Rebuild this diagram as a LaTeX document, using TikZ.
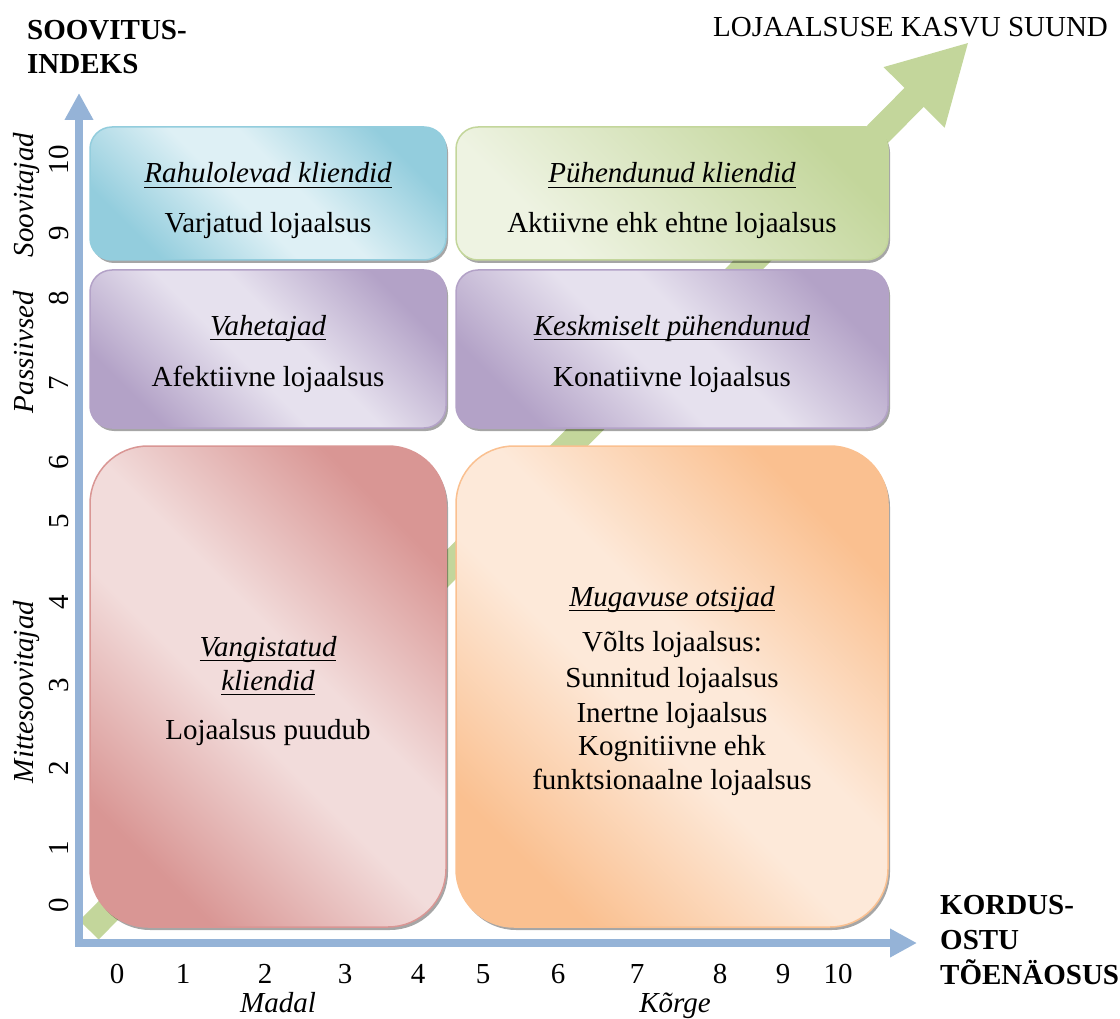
\documentclass[tikz,border=0pt]{standalone}
\usepackage{fontspec}
\setmainfont{Liberation Serif}
\usetikzlibrary{arrows.meta,shadows}

% underline at a fixed depth below the baseline
\newcommand{\segul}[1]{\setbox0=\hbox{#1}\rlap{\rule[-5.3pt]{\wd0}{1.6pt}}\box0}

% palette
\definecolor{axisblue}{HTML}{95B3D7}
\definecolor{trendgreen}{HTML}{C3D69B}
\definecolor{aquaD}{HTML}{93CDDD}\definecolor{aquaL}{HTML}{DEF0F5}
\definecolor{grnD}{HTML}{C3D69B}\definecolor{grnL}{HTML}{EEF3E2}
\definecolor{purD}{HTML}{B3A2C7}\definecolor{purL}{HTML}{E6E1EE}
\definecolor{redD}{HTML}{D99694}\definecolor{redL}{HTML}{F2DCDB}
\definecolor{orgD}{HTML}{FAC090}\definecolor{orgL}{HTML}{FDE9D9}

% diagonal fills: dark corners, broad light centre
\pgfdeclarehorizontalshading{aquaShade}{100bp}{color(0bp)=(aquaD); color(25bp)=(aquaD); color(45bp)=(aquaL); color(55bp)=(aquaL); color(75bp)=(aquaD); color(100bp)=(aquaD)}
\pgfdeclarehorizontalshading{purShade}{100bp}{color(0bp)=(purD); color(25bp)=(purD); color(45bp)=(purL); color(55bp)=(purL); color(75bp)=(purD); color(100bp)=(purD)}
\pgfdeclarehorizontalshading{redShade}{100bp}{color(0bp)=(redD); color(25bp)=(redD); color(45bp)=(redL); color(55bp)=(redL); color(75bp)=(redD); color(100bp)=(redD)}
\pgfdeclarehorizontalshading{orgShade}{100bp}{color(0bp)=(orgD); color(25bp)=(orgD); color(45bp)=(orgL); color(55bp)=(orgL); color(75bp)=(orgD); color(100bp)=(orgD)}
\pgfdeclarehorizontalshading{grnShade}{100bp}{color(0bp)=(grnL); color(30bp)=(grnL); color(75bp)=(grnD); color(100bp)=(grnD)}

\tikzset{
  quad/.style={inner sep=0pt, shading angle=45, line width=1.5pt,
    drop shadow={shadow xshift=2pt, shadow yshift=-3pt, opacity=0.35, fill=black}},
  smallq/.style={quad, rounded corners=22pt},
  bigq/.style={quad, rounded corners=58pt},
  txt/.style={font=\fontsize{29}{34}\selectfont, inner sep=0pt, anchor=base},
  ital/.style={txt, font=\fontsize{29}{34}\selectfont\itshape},
  heading/.style={txt, anchor=base west, font=\fontsize{29}{34}\selectfont\bfseries},
  vtxt/.style={txt, rotate=90},
  vital/.style={ital, rotate=90},
  axisline/.style={axisblue, line width=8.5pt, line join=miter,
    {Triangle[length=27pt,width=27pt]}-{Triangle[length=27pt,width=27pt]}},
  trend/.style={trendgreen, line width=27pt,
    -{Triangle[length=78pt,width=80pt]}}
}

\begin{document}
\begin{tikzpicture}[x=1pt,y=-1pt]
\useasboundingbox (0,0) rectangle (1120,1019);

% loyalty growth direction
\coordinate (trendstart) at (89,930);
\coordinate (trendend) at (969,42);
\draw[trend] (trendstart) -- (trendend);

% segments
\node[smallq, shading=aquaShade, draw=aquaD, minimum width=356pt, minimum height=133pt] (rahul) at (268,193.5) {};
\node[smallq, shading=grnShade, draw=grnD, minimum width=432pt, minimum height=133pt] (puhend) at (672,193.5) {};
\node[smallq, shading=purShade, draw=purD, minimum width=356pt, minimum height=158pt] (vahet) at (268,349) {};
\node[smallq, shading=purShade, draw=purD, minimum width=432pt, minimum height=158pt] (keskm) at (672,349) {};
\node[bigq, shading=redShade, draw=redD, minimum width=356pt, minimum height=481pt] (vangi) at (268,686.5) {};
\node[bigq, shading=orgShade, draw=orgD, minimum width=432pt, minimum height=481pt] (mugav) at (672,686.5) {};

% segment texts
\node[ital] (t1a) at (268,183) {\segul{Rahulolevad kliendid}};
\node[txt]  (t1b) at (268,233) {Varjatud lojaalsus};
\node[ital] (t2a) at (672,183) {\segul{Pühendunud kliendid}};
\node[txt]  (t2b) at (672,233) {Aktiivne ehk ehtne lojaalsus};
\node[ital] (t3a) at (268,335) {\segul{Vahetajad}};
\node[txt]  (t3b) at (268,386) {Afektiivne lojaalsus};
\node[ital] (t4a) at (672,335) {\segul{Keskmiselt pühendunud}};
\node[txt]  (t4b) at (672,386) {Konatiivne lojaalsus};
\node[ital] (t5a) at (268,656) {\segul{Vangistatud}};
\node[ital] (t5b) at (268,690) {\segul{kliendid}};
\node[txt]  (t5c) at (268,739) {Lojaalsus puudub};
\node[ital] (t6a) at (672,606) {\segul{Mugavuse otsijad}};
\node[txt]  (t6b) at (672,651) {Võlts lojaalsus:};
\node[txt]  (t6c) at (672,687) {Sunnitud lojaalsus};
\node[txt]  (t6d) at (672,722) {Inertne lojaalsus};
\node[txt]  (t6e) at (672,755) {Kognitiivne ehk};
\node[txt]  (t6f) at (672,789) {funktsionaalne lojaalsus};

% axes
\coordinate (ytip) at (79,93);
\coordinate (xtip) at (917,943);
\draw[axisline] (ytip) |- (xtip);

% vertical scale
\foreach \v/\y in {0/905,1/848,2/768,3/685,4/602,5/521,6/462,7/383,8/298,9/233,10/160}
  \node[vtxt] (yn\v) at (68,\y) {\v};
\node[vital] (ylabA) at (34,195) {Soovitajad};
\node[vital] (ylabB) at (34,352) {Passiivsed};
\node[vital] (ylabC) at (34,692) {Mittesoovitajad};

% horizontal scale
\foreach \v/\x in {0/117,1/183,2/265,3/345,4/418,5/483,6/558,7/637,8/720,9/783,10/838}
  \node[txt] (xn\v) at (\x,983) {\v};
\node[ital] (xlabA) at (278,1012) {Madal};
\node[ital] (xlabB) at (675,1012) {Kõrge};

% axis titles
\node[heading] (ytitA) at (27,40) {SOOVITUS-};
\node[heading] (ytitB) at (27,74) {INDEKS};
\node[heading] (xtitA) at (940,914) {KORDUS-};
\node[heading] (xtitB) at (940,949) {OSTU};
\node[heading] (xtitC) at (940,984) {TÕENÄOSUS};
\node[txt, anchor=base west] (trendlab) at (713,37) {LOJAALSUSE KASVU SUUND};
\end{tikzpicture}
\end{document}
